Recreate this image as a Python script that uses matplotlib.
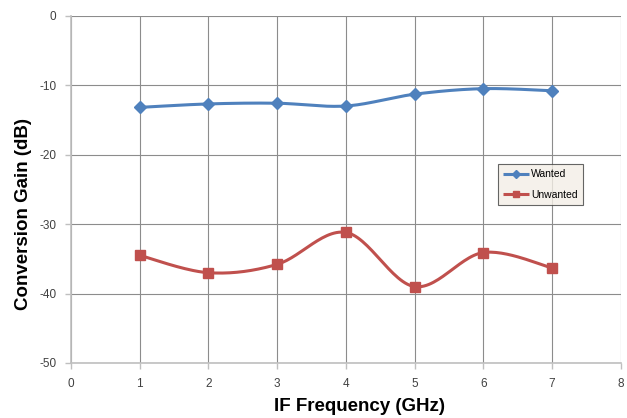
import numpy as np
import matplotlib
matplotlib.use("Agg")
import matplotlib.pyplot as plt
from matplotlib.lines import Line2D

freq = [1, 2, 3, 4, 5, 6, 7]
wanted = [-13.2, -12.7, -12.6, -13.0, -11.3, -10.5, -10.8]
unwanted = [-34.5, -37.0, -35.8, -31.2, -39.0, -34.1, -36.3]
x_ticks = [0, 1, 2, 3, 4, 5, 6, 7, 8]
y_ticks = [0, -10, -20, -30, -40, -50]

blue = "#4F81BD"
red = "#C0504D"


def smooth(xs, ys, n=30):
    # Excel-style smoothed line (Catmull-Rom Bezier)
    xs = np.asarray(xs, float)
    ys = np.asarray(ys, float)
    px = np.concatenate([[xs[0]], xs, [xs[-1]]])
    py = np.concatenate([[ys[0]], ys, [ys[-1]]])
    ox, oy = [], []
    t = np.linspace(0, 1, n)
    for i in range(1, len(px) - 2):
        p0 = np.array([px[i], py[i]])
        p3 = np.array([px[i + 1], py[i + 1]])
        c1 = p0 + (np.array([px[i + 1], py[i + 1]]) - np.array([px[i - 1], py[i - 1]])) / 6
        c2 = p3 - (np.array([px[i + 2], py[i + 2]]) - np.array([px[i], py[i]])) / 6
        b = ((1 - t) ** 3)[:, None] * p0 + (3 * (1 - t) ** 2 * t)[:, None] * c1 \
            + (3 * (1 - t) * t ** 2)[:, None] * c2 + (t ** 3)[:, None] * p3
        ox.extend(b[:, 0])
        oy.extend(b[:, 1])
    return ox, oy


plt.rcParams['font.family'] = ['Liberation Sans', 'DejaVu Sans']
plt.rcParams['axes.unicode_minus'] = False
fig = plt.figure(figsize=(6.27, 4.18), dpi=100)
ax = fig.add_axes([0.1132, 0.1316, 0.8768, 0.8308])

ax.set_xlim(0, 8)
ax.set_ylim(-50, 0)
ax.set_xticks(x_ticks)
ax.set_yticks(y_ticks)
ax.grid(True, color="#8C8C8C", linewidth=0.8)
ax.set_axisbelow(True)
for s in ["top", "right"]:
    ax.spines[s].set_visible(False)
for s in ["left", "bottom"]:
    ax.spines[s].set_color("#BFBFBF")
    ax.spines[s].set_linewidth(1.2)
ax.tick_params(axis="both", colors="#BFBFBF", labelcolor="#404040",
               labelsize=8.5, length=4.5, width=1)
ax.tick_params(axis="x", pad=6)
ax.tick_params(axis="y", pad=6)

sx, sy = smooth(freq, wanted)
ax.plot(sx, sy, color=blue, linewidth=2.2, solid_capstyle="round", zorder=3)
ax.plot(freq, wanted, linestyle="none", marker="D", markersize=6,
        color=blue, zorder=4, clip_on=False)
sx, sy = smooth(freq, unwanted)
ax.plot(sx, sy, color=red, linewidth=2.2, solid_capstyle="round", zorder=3)
ax.plot(freq, unwanted, linestyle="none", marker="s", markersize=7.5,
        color=red, zorder=4, clip_on=False)

ax.set_xlabel("IF Frequency (GHz)", fontsize=13.5, fontweight="bold", va="center")
ax.set_ylabel("Conversion Gain (dB)", fontsize=13.5, fontweight="bold", va="center")
ax.xaxis.set_label_coords(0.524, -0.124)
ax.yaxis.set_label_coords(-0.087, 0.428)

handles = [Line2D([], [], color=blue, linewidth=2.2, marker="D", markersize=4,
                  solid_capstyle="butt"),
           Line2D([], [], color=red, linewidth=2.2, marker="s", markersize=5,
                  solid_capstyle="butt")]
leg = ax.legend(handles, ["Wanted", "Unwanted"], loc="upper left",
                bbox_to_anchor=(0.776, 0.573), fontsize=7.5, frameon=True,
                fancybox=False, handlelength=2.5, handletextpad=0.25,
                borderpad=0.5, labelspacing=1.0, borderaxespad=0)
leg.get_frame().set_facecolor("#F3EEE6")
leg.get_frame().set_edgecolor("#404040")
leg.get_frame().set_linewidth(0.8)

fig.savefig("out.png", dpi=100)
